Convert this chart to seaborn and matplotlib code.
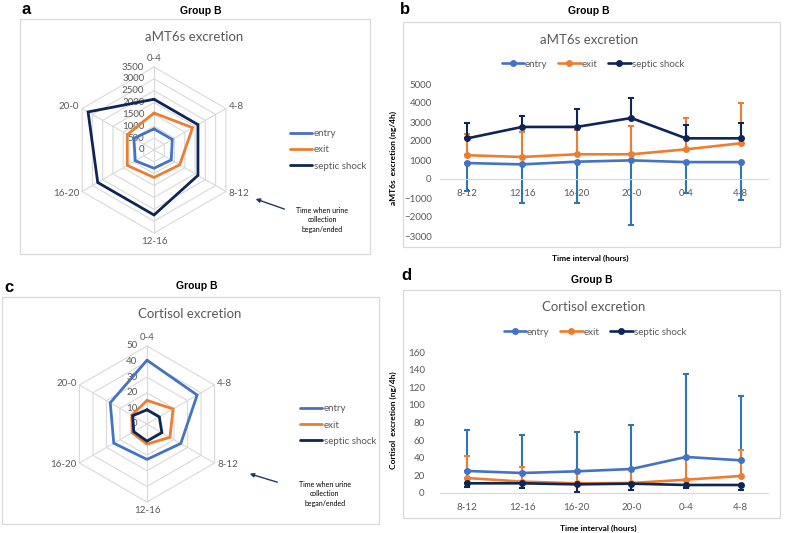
import matplotlib
matplotlib.use('Agg')
import matplotlib.pyplot as plt
import numpy as np
import pandas as pd
import seaborn as sns

# time intervals in the order of the line charts (collection began at 8-12)
intervals = ['8-12', '12-16', '16-20', '20-0', '0-4', '4-8']
# the radar charts start at the top with 0-4 and go clockwise
radar_order = ['0-4', '4-8', '8-12', '12-16', '16-20', '20-0']
series_names = ['entry', 'exit', 'septic shock']

# aMT6s excretion (ng/4h)
amt_entry = [840, 770, 910, 980, 890, 890]
amt_exit = [1250, 1160, 1300, 1300, 1560, 1880]
amt_septic = [2140, 2740, 2740, 3210, 2140, 2140]
amt_entry_err = [1470, 2020, 2160, 3400, 1640, 1990]   # drawn downwards
amt_exit_err = [1100, 1330, 1300, 1500, 1670, 2120]    # drawn upwards
amt_septic_err = [790, 560, 940, 1050, 700, 810]       # drawn upwards

# cortisol excretion (ng/4h)
cort_entry = [25.0, 22.7, 24.6, 27.2, 40.9, 37.1]
cort_exit = [17.0, 12.9, 11.0, 11.3, 15.1, 19.3]
cort_septic = [11.0, 11.0, 9.8, 10.6, 9.1, 9.1]
cort_entry_err = [46.1, 42.7, 44.2, 50.3, 94.1, 72.9]  # upwards
cort_exit_err = [25.4, 17.0, 13.0, 15.7, 25.0, 29.1]   # upwards
cort_septic_err = [4.6, 5.7, 8.3, 6.8, 3.4, 5.3]       # downwards

amt_ticks = [-3000, -2000, -1000, 0, 1000, 2000, 3000, 4000, 5000]
cort_ticks = [0, 20, 40, 60, 80, 100, 120, 140, 160]
amt_rings = [0, 500, 1000, 1500, 2000, 2500, 3000, 3500]
cort_rings = [0, 10, 20, 30, 40, 50]

line_colors = {'entry': '#4472C4', 'exit': '#ED7D31', 'septic shock': '#0F2557'}
err_colors = {'entry': '#2E75B6', 'exit': '#ED7D31', 'septic shock': '#0F2557'}
GRAY = '#595959'
GRID = '#D9D9D9'

W, H = 785, 533

sns.set_style('white')
plt.rcParams['font.family'] = ['Lato', 'DejaVu Sans']


def px_rect(x0, y0, x1, y1):
    """Figure-fraction rectangle from pixel corners (top-left origin)."""
    return [x0 / W, 1 - y1 / H, (x1 - x0) / W, (y1 - y0) / H]


def draw_radar(fig, cx, cy, r, values, rings, legend_xy):
    ax = fig.add_axes(px_rect(cx - r, cy - r, cx + r, cy + r), projection='polar')
    ax.set_theta_zero_location('N')
    ax.set_theta_direction(-1)
    ax.set_facecolor('none')
    ax.grid(False)
    ax.spines['polar'].set_visible(False)
    ax.set_xticks([])
    ax.set_yticks([])
    rmax = rings[-1]
    ax.set_ylim(0, rmax)

    angles = np.arange(len(radar_order)) * 2 * np.pi / len(radar_order)
    closed = np.append(angles, angles[0])

    # hexagonal grid
    for ring in rings[1:]:
        ax.plot(closed, [ring] * len(closed), color=GRID, lw=0.8, zorder=0, clip_on=False)
    for a in angles:
        ax.plot([a, a], [0, rmax], color=GRID, lw=0.8, zorder=0, clip_on=False)

    # ring labels left of the vertical axis
    for ring in rings:
        ax.annotate(str(ring), xy=(0, ring), xytext=(-7, 0), textcoords='offset points',
                    ha='right', va='center', fontsize=7, color=GRAY, zorder=1)

    # category labels
    align = {'0-4': ('center', 'bottom', 1.05), '4-8': ('left', 'center', 1.04),
             '8-12': ('left', 'center', 1.04), '12-16': ('center', 'top', 1.05),
             '16-20': ('right', 'center', 1.04), '20-0': ('right', 'center', 1.04)}
    for a, lab in zip(angles, radar_order):
        ha, va, k = align[lab]
        ax.text(a, rmax * k, lab, ha=ha, va=va, fontsize=7, color=GRAY)

    handles = []
    for name in series_names:
        vals = [values[name][intervals.index(lab)] for lab in radar_order]
        vals.append(vals[0])
        h, = ax.plot(closed, vals, color=line_colors[name], lw=2.0, zorder=3,
                     solid_joinstyle='miter', label=name)
        handles.append(h)

    fig.legend(handles=handles, loc='center left',
               bbox_to_anchor=(legend_xy[0] / W, 1 - legend_xy[1] / H),
               frameon=False, fontsize=7, labelcolor=GRAY, handlelength=2.3,
               handletextpad=0.15, labelspacing=0.75, borderpad=0, borderaxespad=0)
    return ax


def draw_lines(fig, rect, values, errs, err_dirs, ticks, zero_spine, legend_pos, ypad):
    ax = fig.add_axes(px_rect(*rect))
    ax.set_facecolor('none')
    df = pd.DataFrame({
        'interval': intervals * 3,
        'value': values['entry'] + values['exit'] + values['septic shock'],
        'series': sum([[n] * len(intervals) for n in series_names], []),
    })
    sns.lineplot(data=df, x='interval', y='value', hue='series', palette=line_colors,
                 marker='o', markersize=5, markeredgewidth=0, linewidth=1.9,
                 sort=False, errorbar=None, ax=ax, zorder=3)
    for name in series_names:
        e = np.array(errs[name])
        zeros = np.zeros_like(e)
        yerr = [e, zeros] if err_dirs[name] == 'down' else [zeros, e]
        ax.errorbar(intervals, values[name], yerr=yerr, fmt='none',
                    ecolor=err_colors[name], elinewidth=1.5, capsize=2.3,
                    capthick=1.5, zorder=2)

    ax.set_xlim(-0.5, len(intervals) - 0.5)
    ax.set_ylim(ticks[0], ticks[-1])
    ax.set_yticks(ticks)
    ax.set_xlabel('')
    ax.set_ylabel('')
    for s in ['top', 'right', 'left']:
        ax.spines[s].set_visible(False)
    ax.spines['bottom'].set_color(GRID)
    ax.spines['bottom'].set_linewidth(0.8)
    if zero_spine:
        ax.spines['bottom'].set_position(('data', 0))
    ax.tick_params(axis='both', length=0, labelsize=7, labelcolor=GRAY)
    ax.tick_params(axis='y', pad=ypad)
    ax.tick_params(axis='x', pad=7)
    sns.move_legend(ax, 'center', bbox_to_anchor=legend_pos, ncol=3, frameon=False,
                    title=None, fontsize=7, labelcolor=GRAY, handlelength=2.3,
                    handletextpad=0.1, columnspacing=1.1)
    return ax


fig = plt.figure(figsize=(W / 100, H / 100), dpi=100)

# overlay in pixel coordinates for frames, titles and notes
ov = fig.add_axes([0, 0, 1, 1])
ov.set_xlim(0, W)
ov.set_ylim(H, 0)
ov.axis('off')

frames = [(20, 19, 370, 254), (403, 22, 780, 247), (2, 297, 379, 524), (403, 290, 780, 518)]
for x0, y0, x1, y1 in frames:
    ov.add_patch(plt.Rectangle((x0, y0), x1 - x0, y1 - y0, fill=False, ec=GRID, lw=0.9))

for letter, x, y in [('a', 26, 9), ('b', 405, 9), ('c', 9, 287), ('d', 406, 276)]:
    ov.text(x, y, letter, ha='center', va='center', fontsize=12, fontweight='bold',
            family='Liberation Sans', color='black')
for x, y in [(201, 11), (589, 11), (197, 286), (592, 280)]:
    ov.text(x, y, 'Group B', ha='center', va='center', fontsize=7.5, fontweight='bold',
            family='Liberation Sans', color='black')

for x, y, t in [(194, 37, 'aMT6s excretion'), (589, 40, 'aMT6s excretion'),
                (190, 314, 'Cortisol excretion'), (594, 307, 'Cortisol excretion')]:
    ov.text(x, y, t, ha='center', va='center', fontsize=9.5, color=GRAY)

for x, y in [(590, 258), (598, 528)]:
    ov.text(x, y, 'Time interval (hours)', ha='center', va='center', fontsize=6,
            fontweight='bold', color='black')
ov.text(393, 158, 'aMT6s  excretion (ng/4h)', ha='center', va='center', rotation=90,
        fontsize=6, fontweight='bold', color='black')
ov.text(393, 420, 'Cortisol  excretion (ng/4h)', ha='center', va='center', rotation=90,
        fontsize=6, fontweight='bold', color='black')

# arrows pointing at the 8-12 label
for (x0, y0, x1, y1, tx, ty) in [(287, 210, 253, 198, 322, 220), (280, 483, 247, 473, 325, 494)]:
    ov.annotate('', xy=(x1, y1), xytext=(x0, y0),
                arrowprops=dict(arrowstyle='-|>', color='#1F3864', lw=1.0, mutation_scale=6))
    ov.text(tx, ty, 'Time when urine\ncollection\nbegan/ended', ha='center', va='center',
            fontsize=5, color='black', linespacing=1.35)

amt_vals = {'entry': amt_entry, 'exit': amt_exit, 'septic shock': amt_septic}
cort_vals = {'entry': cort_entry, 'exit': cort_exit, 'septic shock': cort_septic}

# a: radar aMT6s
draw_radar(fig, 154, 150, 83, amt_vals, amt_rings, (290, 150))
# c: radar cortisol
draw_radar(fig, 147, 424, 78, cort_vals, cort_rings, (300, 425))

# b: aMT6s line chart
draw_lines(fig, (440, 84, 768, 236), amt_vals,
           {'entry': amt_entry_err, 'exit': amt_exit_err, 'septic shock': amt_septic_err},
           {'entry': 'down', 'exit': 'up', 'septic shock': 'up'},
           amt_ticks, True, (0.466, 1.13), 6)
# d: cortisol line chart
draw_lines(fig, (440, 352, 768, 493), cort_vals,
           {'entry': cort_entry_err, 'exit': cort_exit_err, 'septic shock': cort_septic_err},
           {'entry': 'up', 'exit': 'up', 'septic shock': 'down'},
           cort_ticks, False, (0.472, 1.14), 11)

fig.savefig('out.png', dpi=100)
